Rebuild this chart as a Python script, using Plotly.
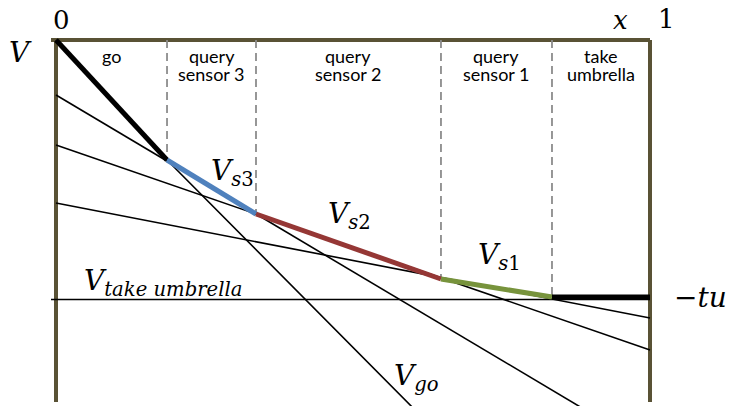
import plotly.graph_objects as go

# Belief x along the horizontal axis; value V on the vertical axis (-tu == -1).
bounds = [0.0, 0.1869, 0.3367, 0.6481, 0.8350, 1.0]
v_env = [0.0, -0.4624, -0.6705, -0.9210, -0.9904, -0.9904]
seg_colors = ["#000000", "#4F81BD", "#953735", "#77933C", "#000000"]
region_top = ["go", "query", "query", "query", "take"]
region_bottom = ["", "sensor 3", "sensor 2", "sensor 1", "umbrella"]

# Value of each individual action as a function of x
go_x = [0.0, 0.1869, 0.615]
go_y = [0.0, -0.4624, -1.45]
s3_x = [0.0, 0.9017]
s3_y = [-0.2119, -1.44]
s2_x = [0.0, 1.0]
s2_y = [-0.4046, -1.1946]
s1_x = [0.0, 1.0]
s1_y = [-0.6281, -1.0713]
take_x = [-0.0084, 1.0]
take_y = [-1.0, -1.0]

FRAME = "#595235"
MATH = "DejaVu Serif"
SANS = "Lato"

fig = go.Figure()

# thin action lines
for xs, ys in [(go_x, go_y), (s3_x, s3_y), (s2_x, s2_y), (s1_x, s1_y), (take_x, take_y)]:
    fig.add_trace(go.Scatter(x=xs, y=ys, mode="lines",
                             line=dict(color="black", width=1.6),
                             hoverinfo="skip", showlegend=False))

# dashed region boundaries, from the top edge down to the envelope
for bx, bv in zip(bounds[1:-1], v_env[1:-1]):
    fig.add_trace(go.Scatter(x=[bx, bx], y=[0.0, bv], mode="lines",
                             line=dict(color="#8C8C8C", width=1.8, dash="8px,5px"),
                             hoverinfo="skip", showlegend=False))

# upper envelope, coloured by the optimal action in each region
for i, col in enumerate(seg_colors):
    fig.add_trace(go.Scatter(x=bounds[i:i + 2], y=v_env[i:i + 2], mode="lines",
                             line=dict(color=col, width=5),
                             hoverinfo="skip", showlegend=False))

# frame
shapes = [
    dict(type="line", x0=-0.0084, x1=1.0, y0=0.0, y1=0.0),
    dict(type="line", x0=0.0, x1=0.0, y0=0.0, y1=-1.395),
    dict(type="line", x0=1.0, x1=1.0, y0=0.0, y1=-1.395),
]
for s in shapes:
    s.update(xref="x", yref="y", layer="below", line=dict(color=FRAME, width=4))

annotations = []
# region names centred between boundaries
for i in range(len(region_top)):
    xm = (bounds[i] + bounds[i + 1]) / 2
    annotations.append(dict(x=xm, y=-0.062, text=region_top[i], showarrow=False,
                            xanchor="center", yanchor="middle",
                            font=dict(family=SANS, size=18, color="black")))
    if region_bottom[i]:
        annotations.append(dict(x=xm, y=-0.131, text=region_bottom[i], showarrow=False,
                                xanchor="center", yanchor="middle",
                                font=dict(family=SANS, size=18, color="black")))

math_labels = [
    (0.0085, 0.078, "0", 26),
    (0.9495, 0.076, "<i>x</i>", 26),
    (1.0270, 0.080, "1", 26),
    (-0.0606, -0.050, "<i>V</i>", 28),
    (1.0842, -0.994, "−<i>tu</i>", 28),
    (0.2963, -0.5087, "<i>V</i><sub><i>s</i>3</sub>", 28),
    (0.4949, -0.6744, "<i>V</i><sub><i>s</i>2</sub>", 28),
    (0.7458, -0.8324, "<i>V</i><sub><i>s</i>1</sub>", 28),
    (0.6077, -1.2987, "<i>V</i><sub><i>go</i></sub>", 28),
    (0.1801, -0.9326, "<i>V</i><sub><i>take umbrella</i></sub>", 28),
]
for x, y, t, sz in math_labels:
    annotations.append(dict(x=x, y=y, text=t, showarrow=False,
                            xanchor="center", yanchor="middle",
                            font=dict(family=MATH, size=sz, color="black")))

fig.update_layout(
    width=730, height=406,
    margin=dict(l=0, r=0, t=0, b=0),
    paper_bgcolor="white", plot_bgcolor="white",
    xaxis=dict(range=[-0.09428, 1.13468], visible=False, fixedrange=True),
    yaxis=dict(range=[-1.41040, 0.15414], visible=False, fixedrange=True),
    shapes=shapes,
    annotations=annotations,
    showlegend=False,
)

fig.write_html("out.html")
